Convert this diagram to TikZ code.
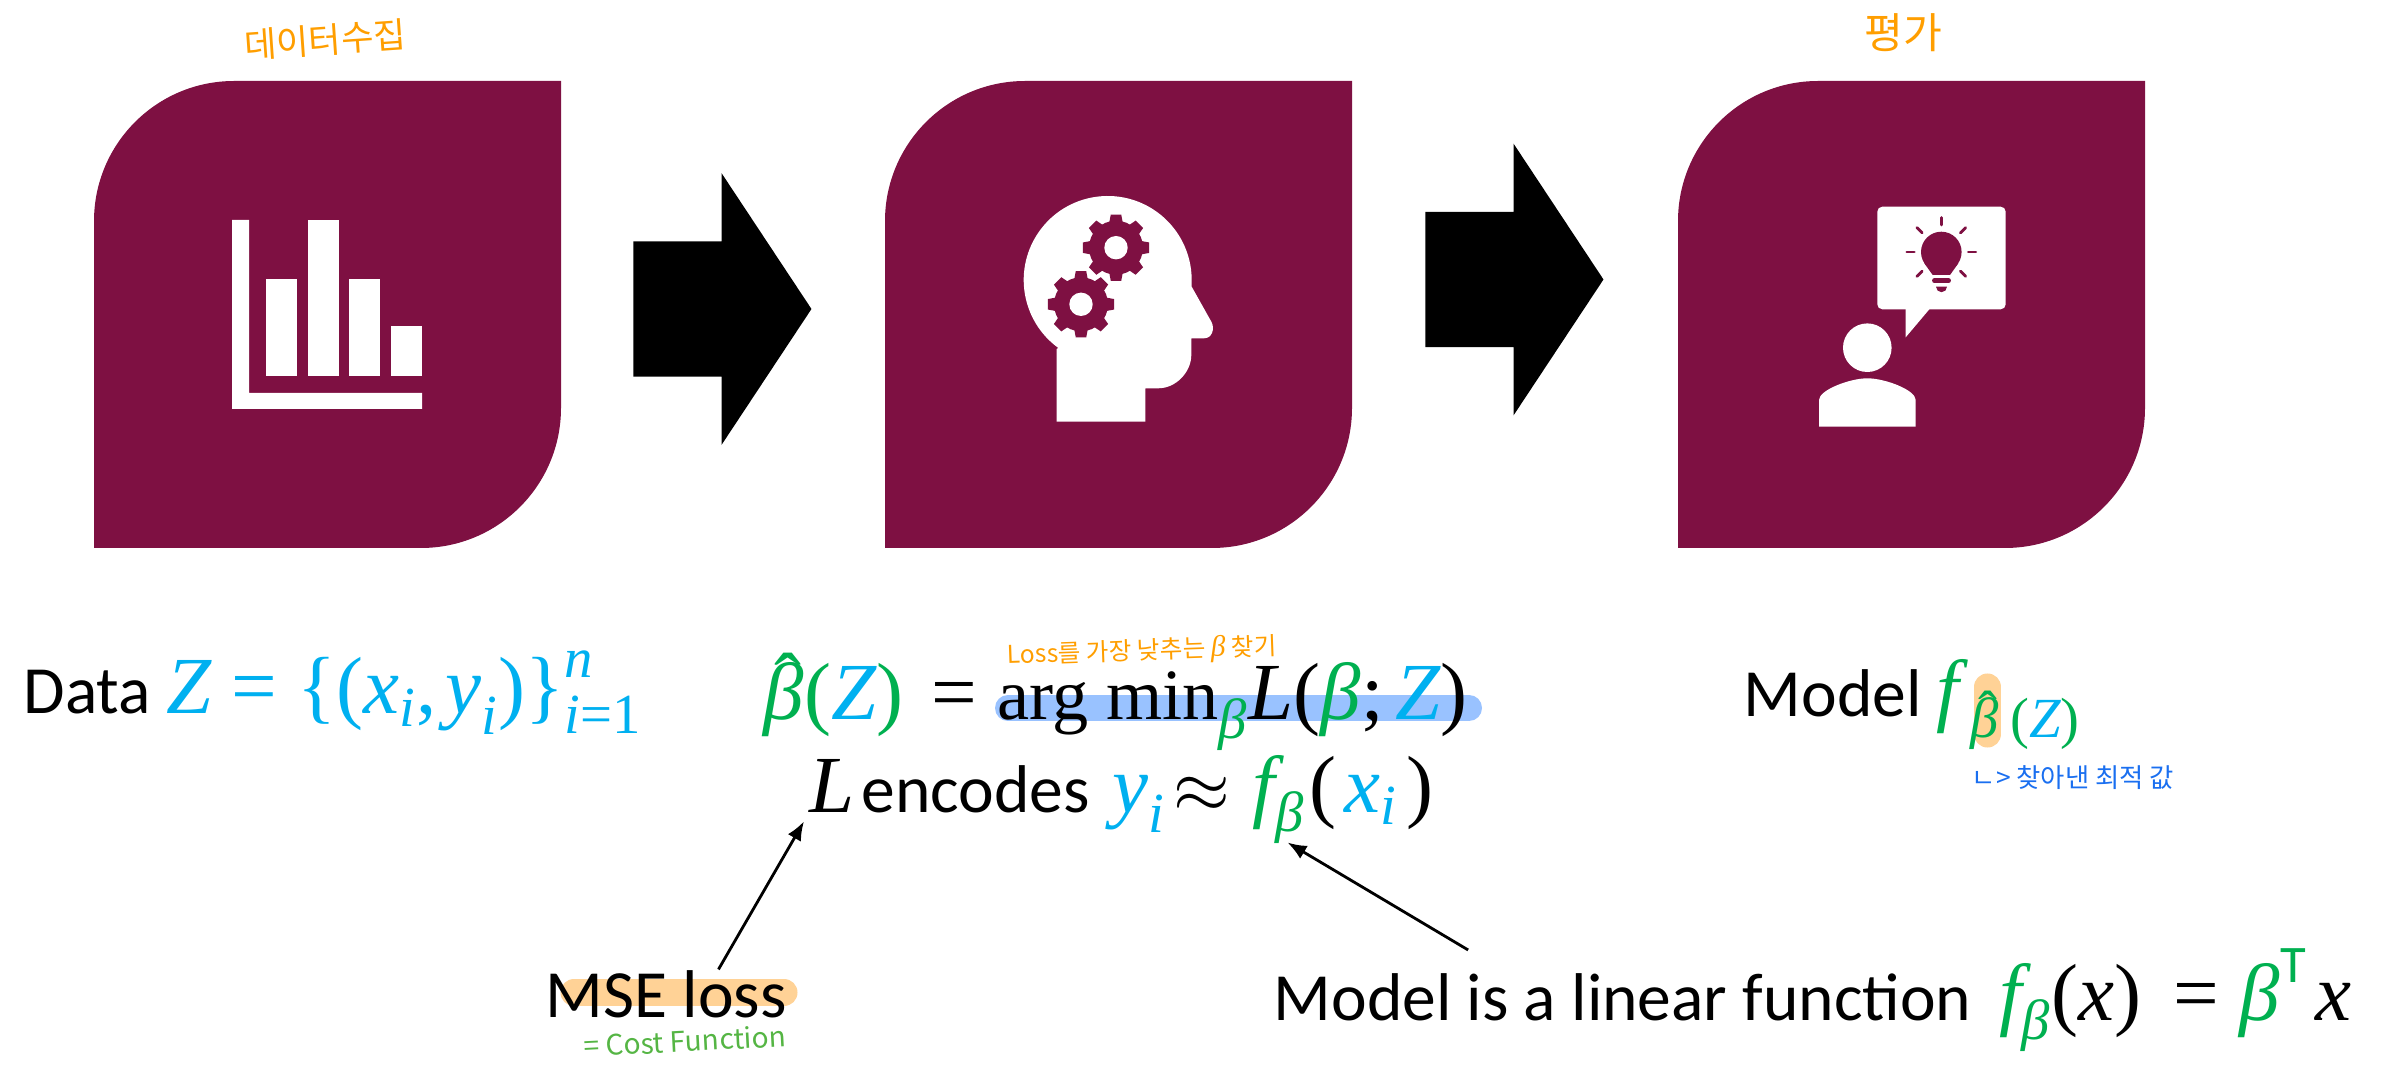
\documentclass[tikz,border=0pt]{standalone}
\usepackage[no-math]{fontspec}
\usepackage{amsmath,amssymb}
\setmainfont{Carlito}
\newfontfamily\notefont{Noto Sans CJK KR}
\newfontfamily\mathface[Scale=1.2]{Liberation Serif}
\newfontfamily\opface[Scale=1.07]{Liberation Serif}
\usetikzlibrary{arrows.meta,shapes.arrows}
\definecolor{stagered}{HTML}{7E1042}
\definecolor{datacyan}{HTML}{00B0F0}
\definecolor{modelgreen}{HTML}{00B050}
\definecolor{noteorange}{HTML}{FF9E00}
\definecolor{noteblue}{HTML}{1A6FF0}
\definecolor{notegreen}{HTML}{55B544}
\definecolor{markblue}{HTML}{99C2FF}
\definecolor{markorange}{HTML}{FFD296}
\newcommand{\dc}[1]{\textcolor{datacyan}{#1}}
\newcommand{\mg}[1]{\textcolor{modelgreen}{#1}}
\newcommand{\mv}[1]{\text{\mathface\itshape #1}}
\newcommand{\mt}[1]{\text{\mathface #1}}
\newcommand{\meq}{\mathrel{\mt{=}}}
\newcommand{\bhat}{\text{\mathface\itshape\rlap{\kern.13em\raisebox{.13em}{\upshape ˆ}}β}}
\tikzset{
  bigtext/.style={inner sep=0pt,font=\fontsize{19.2pt}{23pt}\selectfont},
  notetext/.style={inner sep=0pt,font=\notefont\fontsize{#1}{#1}\selectfont},
  blockarrow/.style={single arrow,fill=black,inner xsep=0pt,inner ysep=0.67cm,minimum height=1.78cm,minimum width=2.7cm,
    single arrow head extend=0.68cm,single arrow tip angle=113},
  notearrow/.style={-{Latex[length=0.19cm,width=0.15cm]},line width=0.8pt}
}
\begin{document}
\begin{tikzpicture}[x=0.01cm,y=0.01cm]
    \useasboundingbox (0,0) rectangle (2408,1066);

    % Three stage panels.
    \foreach \bx/\bname in {94/data,885/train,1678/eval}
      \fill[stagered,shift={(\bx,518)}] (0,0) [rounded corners=1.4cm] -- (0,467) [sharp corners] -- (467,467)
        [rounded corners=1.4cm] -- (467,0) [sharp corners] -- cycle;

    % Block arrows.
    \node[blockarrow] (arrowa) at (700,757) {};
    \node[blockarrow] (arrowb) at (1492,786.5) {};

    % Chart icon.
    \fill[white] (232,657) -- (232,846) -- (249,846) -- (249,673) -- (422,673) -- (422,657) -- cycle;
    \foreach \cx/\ctop in {266/787,308/846,349/787,391/740}
      \fill[white] (\cx,690) rectangle (\cx+31,\ctop);

    % Head icon.
    \fill[white] (1107.7,786) ++(234:84) arc[start angle=234,end angle=0,radius=84]
      -- (1191.7,779.3) -- (1211.5,744) .. controls (1215,737) and (1212,727.7) .. (1204,727.7)
      -- (1191.3,727.7) -- (1191.3,711) .. controls (1191.3,694) and (1176,677.7) .. (1158.3,677.7)
      -- (1145.3,677.7) -- (1145.3,644.3) -- (1056.7,644.3) -- (1056.7,717) -- cycle;
    \foreach \gx/\gy in {1116/818.3,1081/761.7} {
      \fill[stagered] (\gx,\gy) circle[radius=27];
      \foreach \ga in {0,45,...,315}
        \fill[stagered,shift={(\gx,\gy)}] (\ga-15:26) -- (\ga-9:33.5) -- (\ga+9:33.5) -- (\ga+15:26) -- cycle;
      \fill[white] (\gx,\gy) circle[radius=11.7];
    }

    % Person and bulb icon.
    \fill[white,rounded corners=0.05cm] (1877.3,756.7) rectangle (2005.7,859.3);
    \fill[white] (1905.7,757.5) -- (1905.7,728.7) -- (1930,757.5) -- cycle;
    \fill[white] (1867.3,718.3) circle[radius=24.3];
    \fill[white] (1819,639.3) -- (1819,666) .. controls (1819,676) and (1850,687.7) .. (1867.3,687.7)
      .. controls (1885,687.7) and (1915.7,676) .. (1915.7,666) -- (1915.7,639.3) -- cycle;
    \fill[stagered] (1941.3,814) circle[radius=20.3];
    \fill[stagered] (1924.3,802.7) -- (1932.7,791) -- (1950,791) -- (1958.3,802.7) -- cycle;
    \draw[stagered,line width=1.4pt,line cap=round] (1934.5,785.3) -- (1948.5,785.3);
    \fill[stagered] (1936,779.3) -- (1947,779.3) arc[start angle=0,end angle=-180,radius=5.5] -- cycle;
    \foreach \ra in {0,45,90,135,180,225,315}
      \draw[stagered,line width=0.8pt,line cap=round,shift={(1941.3,814)}] (\ra:27) -- (\ra:34.5);

    % Marker strokes, under the text.
    \draw[markblue,line width=0.26cm,line cap=round] (1008,358) -- (1469,358);
    \draw[markorange,line width=0.27cm,line cap=round] (574,73.5) -- (784,73.5);
    \draw[markorange,line width=0.27cm,line cap=round] (1987.5,379) -- (1987.5,332);

    % Captions under the panels.
    \node[bigtext,anchor=base west] (datacap) at (23,352)
      {Data $\dc{\mv{Z}\meq\mt{\{(}\mv{x}_{\mv{i}}\mt{,}\mskip2mu\mv{y}_{\mv{i}}\mt{)\}}_{\mv{i}\mt{=1}}^{\mv{n}}}$};
    \node[bigtext,anchor=base west] (argmin) at (763,346)
      {$\mg{\bhat\mt{(}\dc{\mv{Z}}\mt{)}}\mskip2mu\meq\text{\opface arg min}_{\mg{\mv{β}}}\mv{L}\mt{(}\mg{\mv{β}}\mt{;}\,\dc{\mv{Z}}\mt{)}$};
    \node[bigtext,anchor=base west] (lsym) at (809,254) {$\mv{L}$};
    \node[bigtext,anchor=base west] (encodes) at (861,254) {encodes\hspace{2pt} $\dc{\mv{y}_{\mv{i}}}\!\mathrel{\approx}$};
    \node[bigtext,anchor=base west] (fbeta) at (1252,254) {$\mg{\mv{f}_{\mv{β}}}$};
    \node[bigtext,anchor=base west] (fargs) at (1309,254) {$\mt{(}\mskip2mu\dc{\mv{x}_{\mv{i}}}\mskip2mu\mt{)}$};
    \node[bigtext,anchor=base west] (modelcap) at (1743,350)
      {Model $\mg{\mv{f}_{\mskip4mu\bhat\mskip4mu\mt{(}\dc{\mv{Z}}\mt{)}}}$};
    \node[bigtext,anchor=base west] (mseloss) at (545,49) {MSE loss};
    \node[bigtext,anchor=base west] (linmodel) at (1273,46)
      {Model is a linear function $\,\mg{\mv{f}_{\mv{β}}}\mt{(}\mv{x}\mt{)}\,\meq\mg{\mv{β}^{\text{\fontsize{15pt}{15pt}\selectfont\rmfamily T}}}\mskip2mu\mv{x}$};
    \coordinate (linstart) at ([xshift=1.95cm,yshift=-0.02cm]linmodel.north west);
    \coordinate (ftip) at ([xshift=0.12cm]fbeta.south);

    % Arrows to the loss and to the model.
    \draw[notearrow,shorten >=0.1cm] (mseloss.25) -- (lsym.south west);
    \draw[notearrow,shorten >=-0.04cm] (linstart) -- (ftip);

    % Handwritten notes.
    \node[notetext=10pt,noteorange,rotate=4] (notecollect) at (325,1026) {데이터수집};
    \node[notetext=12pt,noteorange] (noteeval) at (1903,1033) {평가};
    \node[notetext=7pt,noteorange,rotate=2] (notefind) at (1142,414) {Loss를 가장 낮추는 $\mv{β}$ 찾기};
    \node[notetext=7.5pt,noteblue] (notebest) at (2073,288) {ㄴ> 찾아낸 최적 값};
    \node[notetext=8pt,notegreen,rotate=3] (notecost) at (685,25) {= Cost Function};
  \end{tikzpicture}
\end{document}
